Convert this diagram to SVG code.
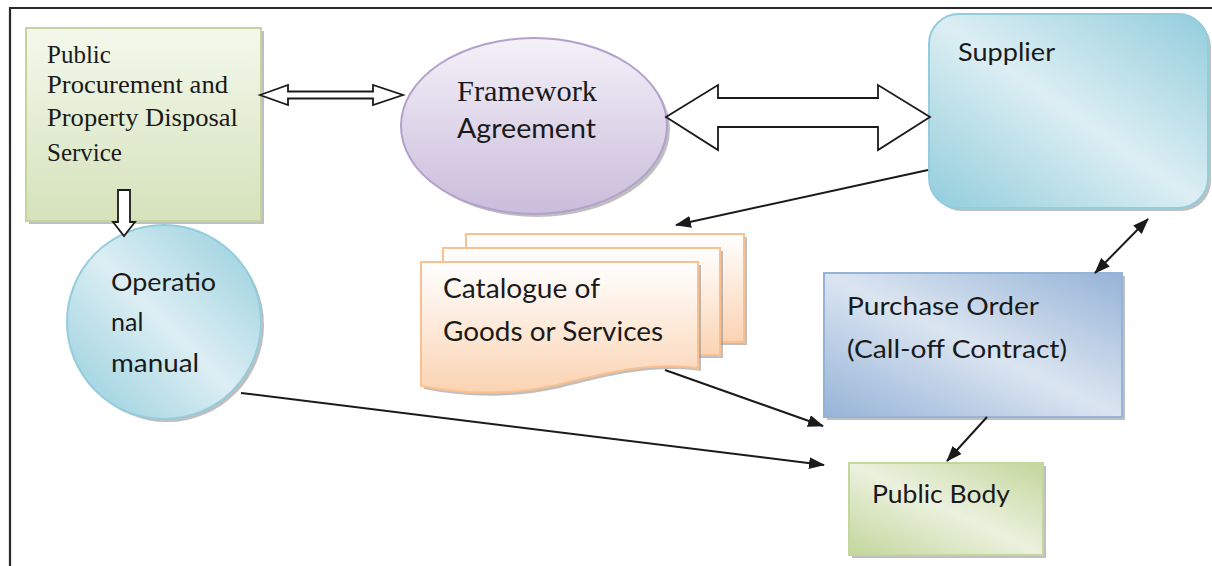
<svg xmlns="http://www.w3.org/2000/svg" width="1212" height="566" viewBox="0 0 1212 566">
<style>
.serif{font-family:"Liberation Serif","Times New Roman",serif;fill:#1a1a1a}
.sans{font-family:Lato,"Open Sans","Liberation Sans",sans-serif;fill:#1a1a1a}
.conn{stroke:#1a1a1a;stroke-width:2;fill:none}
.hollow{fill:#fff;stroke:#1a1a1a;stroke-width:1.8;stroke-linejoin:miter}
.shadow{fill:#8a8a8a;opacity:0.55}
</style>
<defs>
<linearGradient id="gGreen" x1="0" y1="0" x2="0" y2="1">
<stop offset="0" stop-color="#f4f8ec"/><stop offset="1" stop-color="#d5e2bb"/>
</linearGradient>
<linearGradient id="gPurple" x1="0" y1="0" x2="0" y2="1">
<stop offset="0" stop-color="#f4f1f8"/><stop offset="1" stop-color="#cabcdb"/>
</linearGradient>
<linearGradient id="gTeal" x1="0" y1="1" x2="1" y2="0">
<stop offset="0" stop-color="#92cddc"/><stop offset="0.5" stop-color="#dceef3"/><stop offset="1" stop-color="#92cddc"/>
</linearGradient>
<linearGradient id="gBlue" x1="0" y1="1" x2="1" y2="0">
<stop offset="0" stop-color="#95b3d7"/><stop offset="0.5" stop-color="#dbe5f1"/><stop offset="1" stop-color="#95b3d7"/>
</linearGradient>
<linearGradient id="gLime" x1="0" y1="1" x2="1" y2="0">
<stop offset="0" stop-color="#c3d69b"/><stop offset="0.5" stop-color="#ebf1de"/><stop offset="1" stop-color="#c3d69b"/>
</linearGradient>
<linearGradient id="gPeach" x1="0" y1="0" x2="0" y2="1">
<stop offset="0" stop-color="#ffffff"/><stop offset="1" stop-color="#fbd3b2"/>
</linearGradient>
<marker id="ah" viewBox="0 0 16 12" refX="15" refY="6" markerWidth="16" markerHeight="12" markerUnits="userSpaceOnUse" orient="auto-start-reverse">
<path d="M0,0 L16,6 L0,12 Z" fill="#1a1a1a"/>
</marker>
</defs>

<rect width="1212" height="566" fill="#fff"/>
<path d="M10,566 V8 H1212" fill="none" stroke="#2a2a2a" stroke-width="2.2"/>

<g id="pppds">
<rect class="shadow" x="29" y="31" width="235" height="193"/>
<rect x="26" y="28" width="235" height="193" fill="url(#gGreen)" stroke="#c2d59c" stroke-width="2"/>
<text class="serif" font-size="25" x="47" y="63">Public</text>
<text class="serif" font-size="25" x="47" y="93" textLength="181" lengthAdjust="spacingAndGlyphs">Procurement and</text>
<text class="serif" font-size="25" x="47" y="126" textLength="191" lengthAdjust="spacingAndGlyphs">Property Disposal</text>
<text class="serif" font-size="25" x="47" y="161">Service</text>
</g>

<g id="framework">
<ellipse class="shadow" cx="537" cy="129" rx="133" ry="88"/>
<ellipse cx="534" cy="126" rx="133" ry="88" fill="url(#gPurple)" stroke="#b2a1cc" stroke-width="2"/>
<text class="serif" font-size="29" x="457" y="101" textLength="140" lengthAdjust="spacingAndGlyphs">Framework</text>
<text class="sans" font-size="27" x="457" y="138" textLength="139" lengthAdjust="spacingAndGlyphs">Agreement</text>
</g>

<g id="supplier">
<rect class="shadow" x="932" y="17" width="279" height="194" rx="30"/>
<rect x="929" y="14" width="279" height="194" rx="30" fill="url(#gTeal)" stroke="#93cddd" stroke-width="2"/>
<text class="sans" font-size="25" x="958" y="61" textLength="97" lengthAdjust="spacingAndGlyphs">Supplier</text>
</g>

<g id="manual">
<circle class="shadow" cx="167" cy="325" r="97"/>
<circle cx="164" cy="322" r="97" fill="url(#gTeal)" stroke="#93cddd" stroke-width="2"/>
<text class="sans" font-size="25" x="111" y="291" textLength="105" lengthAdjust="spacingAndGlyphs">Operatio</text>
<text class="sans" font-size="25" x="111" y="331">nal</text>
<text class="sans" font-size="25" x="111" y="372" textLength="88" lengthAdjust="spacingAndGlyphs">manual</text>
</g>

<g id="catalogue">
<rect class="shadow" x="469" y="237" width="278" height="108"/>
<rect x="466" y="234" width="278" height="108" fill="url(#gPeach)" stroke="#fac08f" stroke-width="2"/>
<rect class="shadow" x="446" y="251" width="277" height="107"/>
<rect x="443" y="248" width="277" height="107" fill="url(#gPeach)" stroke="#fac08f" stroke-width="2"/>
<path class="shadow" d="M424,265 H701 V371 C650,364 600,378 560,388 C515,398 470,398 424,389 Z"/>
<path d="M421,262 H698 V368 C647,361 597,375 557,385 C512,395 467,395 421,386 Z" fill="url(#gPeach)" stroke="#fac08f" stroke-width="2"/>
<text class="sans" font-size="26" x="443" y="298" textLength="157" lengthAdjust="spacingAndGlyphs">Catalogue of</text>
<text class="sans" font-size="26" x="443" y="341" textLength="220" lengthAdjust="spacingAndGlyphs">Goods or Services</text>
</g>

<g id="purchase-order">
<rect class="shadow" x="827" y="276" width="298" height="144"/>
<rect x="824" y="273" width="298" height="144" fill="url(#gBlue)" stroke="#95b3d7" stroke-width="2"/>
<text class="sans" font-size="25" x="847" y="315" textLength="192" lengthAdjust="spacingAndGlyphs">Purchase Order</text>
<text class="sans" font-size="25" x="847" y="358" textLength="220" lengthAdjust="spacingAndGlyphs">(Call-off Contract)</text>
</g>

<g id="public-body">
<rect class="shadow" x="852" y="466" width="194" height="92"/>
<rect x="849" y="463" width="194" height="92" fill="url(#gLime)" stroke="#c3d69b" stroke-width="2"/>
<text class="sans" font-size="25" x="872" y="503" textLength="138" lengthAdjust="spacingAndGlyphs">Public Body</text>
</g>

<g id="connectors">
<path class="hollow" d="M260,95 L288,85 L288,91.5 L373,91.5 L373,85 L403,95 L373,105 L373,98.5 L288,98.5 L288,105 Z"/>
<path class="hollow" d="M666,117 L718,85 L718,98 L878,98 L878,85 L930,117 L878,150 L878,127 L718,127 L718,150 Z"/>
<path class="hollow" d="M118,190 H130 V222 H135 L124,236 L113,222 H118 Z"/>
<line class="conn" x1="928" y1="170" x2="676" y2="225" marker-end="url(#ah)"/>
<line class="conn" x1="1148" y1="219" x2="1095" y2="273" marker-start="url(#ah)" marker-end="url(#ah)"/>
<line class="conn" x1="987" y1="417" x2="947" y2="461" marker-end="url(#ah)"/>
<line class="conn" x1="665" y1="370" x2="823" y2="426" marker-end="url(#ah)"/>
<line class="conn" x1="241" y1="393" x2="824" y2="465" marker-end="url(#ah)"/>
</g>
</svg>
